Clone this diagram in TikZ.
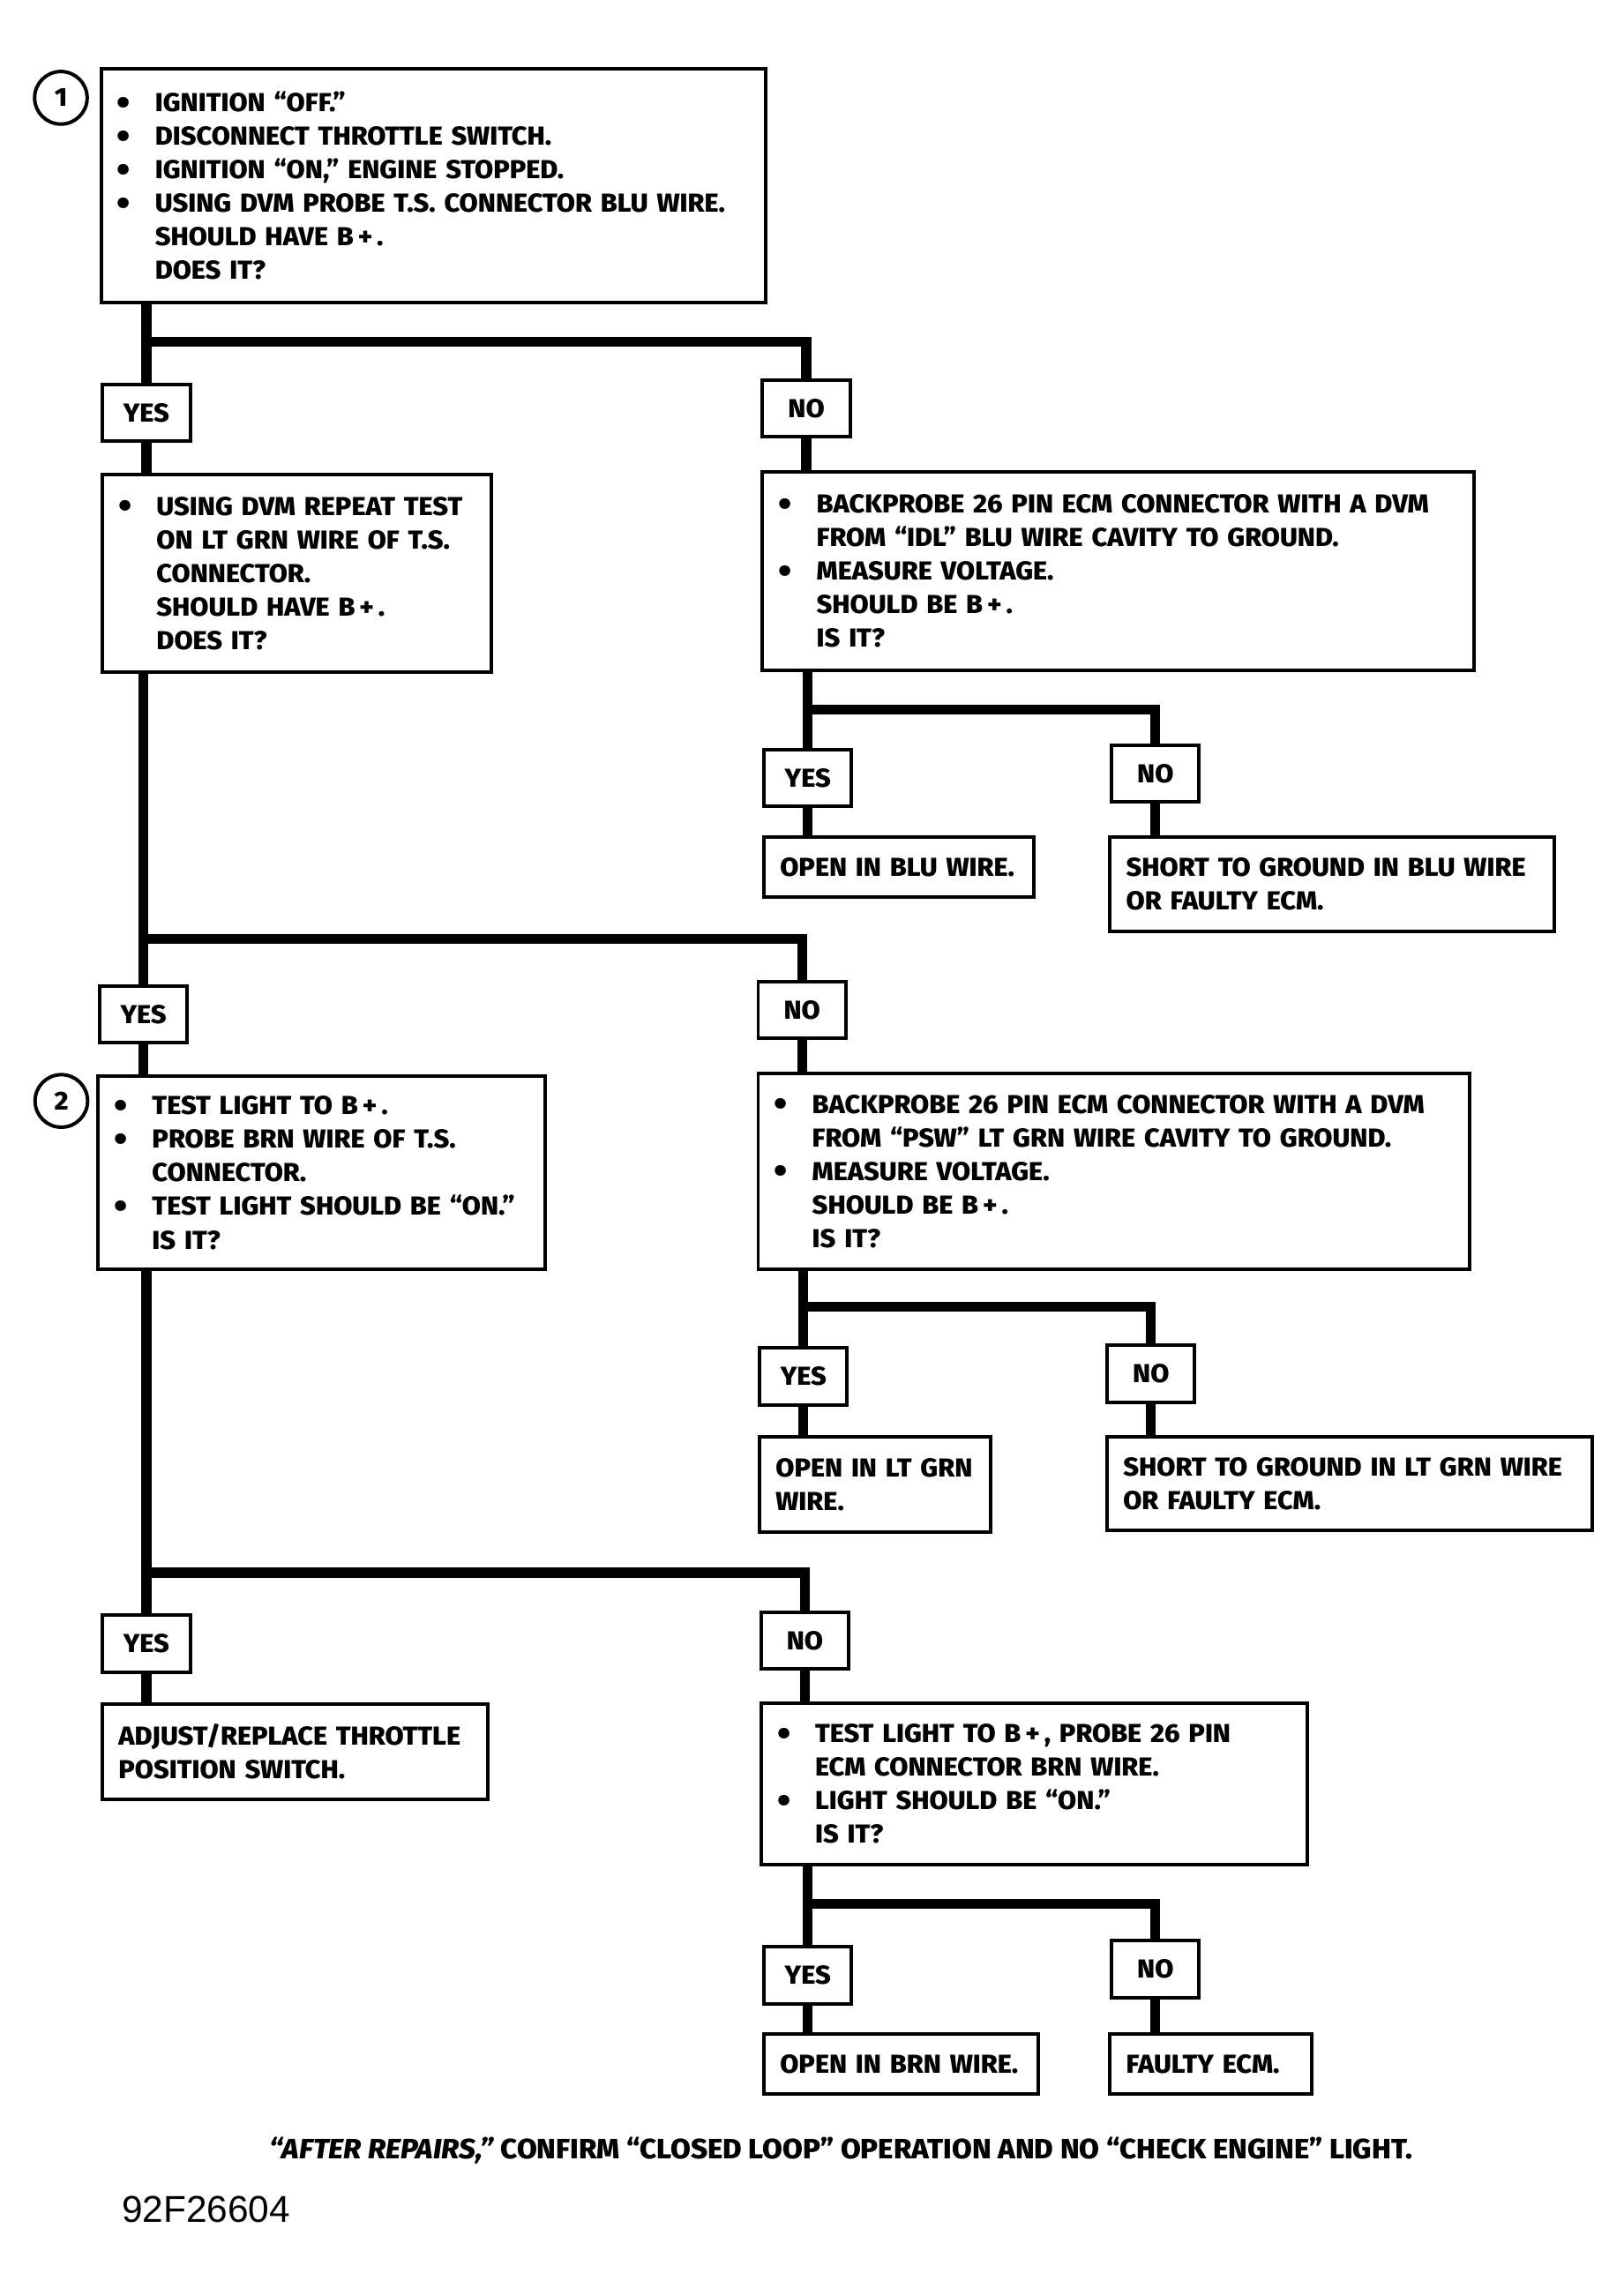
\documentclass[tikz,border=0pt]{standalone}
\usepackage{fontspec}
\usepackage{graphicx}
\setmainfont{Fira Sans ExtraBold}[FakeStretch=1.04,ItalicFont={Fira Sans ExtraBold Italic}]
\newfontfamily\codefont{Liberation Sans}
\newcommand{\bul}{\makebox[13pt][l]{\raisebox{-1.1pt}{\scalebox{1.4}{\textbullet}}}}
\newcommand{\ind}{\hspace*{13pt}}

\begin{document}
\begin{tikzpicture}[x=0.5pt,y=-0.5pt,
    txt/.style={font=\fontsize{8.9pt}{11.5pt}\selectfont},
    box/.style 2 args={txt,draw,line width=1.2pt,anchor=north west,align=left,inner xsep=5.5pt,inner ysep=0pt,text width=#1,minimum height=#2},
    ans/.style={txt,draw,line width=1.2pt,anchor=north west,inner sep=0pt,minimum width=30pt,minimum height=19.5pt},
    numcirc/.style={txt,draw,circle,line width=1.2pt,inner sep=0pt,minimum size=18pt},
    wire/.style={line width=3.4pt}]
          \useasboundingbox (0,0) rectangle (1112,1567);
          \node[numcirc] (n1) at (41.7,67) {1};
          \node[box={216.5pt}{80pt}] (box1) at (68,46) {\bul IGNITION ``OFF.''\\
            \bul DISCONNECT THROTTLE SWITCH.\\
            \bul IGNITION ``ON,'' ENGINE STOPPED.\\
            \bul USING DVM PROBE T.S. CONNECTOR BLU WIRE.\\
            \ind SHOULD HAVE B\,+\,.\\
            \ind DOES IT?};
          \node[ans] (yes1) at (69,262) {YES};
          \node[ans] (no1) at (521,259) {NO};
          \node[box={122pt}{67.5pt}] (box2) at (69,324) {\bul USING DVM REPEAT TEST\\
            \ind ON LT GRN WIRE OF T.S.\\
            \ind CONNECTOR.\\
            \ind SHOULD HAVE B\,+\,.\\
            \ind DOES IT?};
          \node[box={232.5pt}{68pt}] (box3) at (521,322) {\bul BACKPROBE 26 PIN ECM CONNECTOR WITH A DVM\\
            \ind FROM ``IDL'' BLU WIRE CAVITY TO GROUND.\\
            \bul MEASURE VOLTAGE.\\
            \ind SHOULD BE B\,+\,.\\
            \ind IS IT?};
          \node[ans] (yes3) at (522,512) {YES};
          \node[ans] (no3) at (760,509) {NO};
          \node[box={81.5pt}{20.5pt}] (res3a) at (522,572) {OPEN IN BLU WIRE.};
          \node[box={141pt}{32.5pt}] (res3b) at (759,572) {SHORT TO GROUND IN BLU WIRE\\OR FAULTY ECM.};
          \node[ans] (yes2) at (67,674) {YES};
          \node[ans] (no2) at (518,671) {NO};
          \node[numcirc] (n2) at (42,754) {2};
          \node[box={142pt}{66pt}] (box4) at (66,736) {\bul TEST LIGHT TO B\,+\,.\\
            \bul PROBE BRN WIRE OF T.S.\\
            \ind CONNECTOR.\\
            \bul TEST LIGHT SHOULD BE ``ON.''\\
            \ind IS IT?};
          \node[box={232.5pt}{67pt}] (box5) at (518,734) {\bul BACKPROBE 26 PIN ECM CONNECTOR WITH A DVM\\
            \ind FROM ``PSW'' LT GRN WIRE CAVITY TO GROUND.\\
            \bul MEASURE VOLTAGE.\\
            \ind SHOULD BE B\,+\,.\\
            \ind IS IT?};
          \node[ans] (yes5) at (519,922) {YES};
          \node[ans] (no5) at (757,920) {NO};
          \node[box={68pt}{32.5pt}] (res5a) at (519,983) {OPEN IN LT GRN\\WIRE.};
          \node[box={155pt}{32pt}] (res5b) at (757,983) {SHORT TO GROUND IN LT GRN WIRE\\OR FAULTY ECM.};
          \node[ans] (yes4) at (69,1105) {YES};
          \node[ans] (no4) at (520,1103) {NO};
          \node[box={121pt}{32.5pt}] (res4) at (69,1166) {ADJUST/REPLACE THROTTLE\\POSITION SWITCH.};
          \node[box={176pt}{55.5pt}] (box6) at (520,1165) {\bul TEST LIGHT TO B\,+\,, PROBE 26 PIN\\
            \ind ECM CONNECTOR BRN WIRE.\\
            \bul LIGHT SHOULD BE ``ON.''\\
            \ind IS IT?};
          \node[ans] (yes6) at (522,1332) {YES};
          \node[ans] (no6) at (760,1328) {NO};
          \node[box={83pt}{20.5pt}] (res6a) at (522,1392) {OPEN IN BRN WIRE.};
          \node[box={58pt}{20.5pt}] (res6b) at (759,1392) {FAULTY ECM.};
          \node[font=\fontsize{9.6pt}{11.5pt}\selectfont] (note) at (576,1473) {\textit{``AFTER REPAIRS,''} CONFIRM ``CLOSED LOOP'' OPERATION AND NO ``CHECK ENGINE'' LIGHT.};
          \node[anchor=west,inner sep=0pt,font=\codefont\fontsize{12.8pt}{14pt}\selectfont] (figno) at (83,1513) {92F26604};
          \coordinate (j1) at (yes1.north |- 0,234);
          \coordinate (j2) at (yes2.north |- 0,643);
          \coordinate (j3) at (yes3.north |- 0,486);
          \coordinate (j4) at (yes4.north |- 0,1077);
          \coordinate (j5) at (yes5.north |- 0,895);
          \coordinate (j6) at (yes6.north |- 0,1304);
          \draw[wire] (yes1.north |- box1.south) -- (yes1.north);
          \draw[wire] (j1) -| (no1.north);
          \draw[wire] (yes1.south) -- (yes1.south |- box2.north);
          \draw[wire] (no1.south) -- (no1.south |- box3.north);
          \draw[wire] (yes3.north |- box3.south) -- (yes3.north);
          \draw[wire] (j3) -| (no3.north);
          \draw[wire] (yes3.south) -- (yes3.south |- res3a.north);
          \draw[wire] (no3.south) -- (no3.south |- res3b.north);
          \draw[wire] (yes2.north |- box2.south) -- (yes2.north);
          \draw[wire] (j2) -| (no2.north);
          \draw[wire] (yes2.south) -- (yes2.south |- box4.north);
          \draw[wire] (no2.south) -- (no2.south |- box5.north);
          \draw[wire] (yes5.north |- box5.south) -- (yes5.north);
          \draw[wire] (j5) -| (no5.north);
          \draw[wire] (yes5.south) -- (yes5.south |- res5a.north);
          \draw[wire] (no5.south) -- (no5.south |- res5b.north);
          \draw[wire] (yes4.north |- box4.south) -- (yes4.north);
          \draw[wire] (j4) -| (no4.north);
          \draw[wire] (yes4.south) -- (yes4.south |- res4.north);
          \draw[wire] (no4.south) -- (no4.south |- box6.north);
          \draw[wire] (yes6.north |- box6.south) -- (yes6.north);
          \draw[wire] (j6) -| (no6.north);
          \draw[wire] (yes6.south) -- (yes6.south |- res6a.north);
          \draw[wire] (no6.south) -- (no6.south |- res6b.north);
        \end{tikzpicture}
\end{document}
